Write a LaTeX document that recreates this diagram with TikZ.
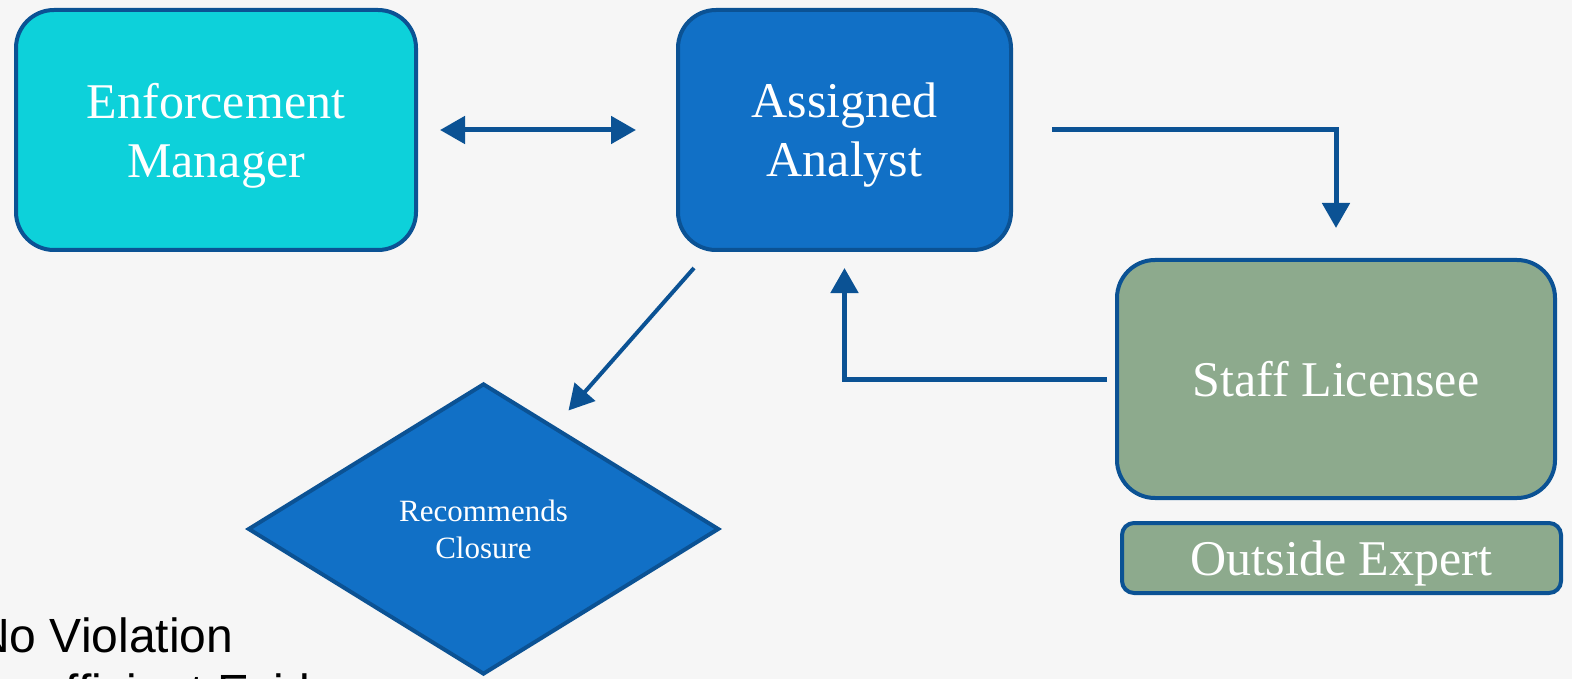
\documentclass[tikz,border=0pt]{standalone}
\usepackage{fontspec}
\setmainfont{Liberation Serif}
\newfontfamily\bodysans{Liberation Sans}
\usetikzlibrary{arrows.meta,shapes.geometric,calc}

\definecolor{pagebg}{RGB}{246,246,246}
\definecolor{edgeblue}{RGB}{11,82,148}
\definecolor{cyanfill}{RGB}{13,209,218}
\definecolor{bluefill}{RGB}{17,112,198}
\definecolor{sagefill}{RGB}{141,170,141}

\tikzset{
  box/.style={draw=edgeblue, line width=4pt, rounded corners=38pt,
    text=white, align=center, inner sep=0pt, text depth=0pt,
    font=\fontsize{50}{59}\selectfont},
  flow/.style={draw=edgeblue, line width=5pt,
    -{Triangle[length=25pt,width=27pt]}},
  listtext/.style={anchor=base west, inner sep=0pt, text=black,
    font=\bodysans\fontsize{48}{56}\selectfont},
}

\begin{document}
\begin{tikzpicture}[x=1pt, y=-1pt]
  % page
  \fill[pagebg] (0,0) rectangle (1572,679);
  \useasboundingbox (0,0) rectangle (1572,679);
  \clip (0,0) rectangle (1572,679);

  % list text at the lower left
  \node[listtext] (nv) at (-25,652) {No Violation};
  \node[listtext] (ie) at (-25,708) {Insufficient Evidence};

  % boxes
  \node[box, fill=cyanfill, minimum width=400pt, minimum height=240pt]
    (em) at (216,130) {Enforcement\\Manager};
  \node[box, fill=bluefill, minimum width=333pt, minimum height=240pt]
    (aa) at (844.5,130) {Assigned\\Analyst};
  \node[box, fill=sagefill, minimum width=438pt, minimum height=238pt]
    (sl) at (1336,379) {Staff Licensee};
  \node[box, fill=sagefill, rounded corners=12pt, minimum width=439pt,
    minimum height=70pt] (oe) at (1341.5,558) {Outside Expert};

  % decision
  \node[diamond, draw=edgeblue, fill=bluefill, line width=4pt,
    minimum width=471pt, minimum height=291pt, aspect=1.62, inner sep=0pt,
    text=white, align=center, font=\fontsize{31}{37}\selectfont]
    (rc) at (483.5,529) {Recommends\\Closure};

  % connectors
  \draw[flow, {Triangle[length=25pt,width=27pt]}-{Triangle[length=25pt,width=27pt]},
    shorten <=22pt, shorten >=40pt] (em.east) -- (aa.west);
  \draw[flow, shorten <=39pt, shorten >=30pt] (aa.east) -| (sl.north);
  \draw[flow, shorten <=8pt, shorten >=16pt] (sl.west) -| (aa.south);
  \draw[flow, line width=4pt]
    ($(aa.south west)+(18,16)$) -- ($(rc.north)+(85,29)$);
\end{tikzpicture}
\end{document}
